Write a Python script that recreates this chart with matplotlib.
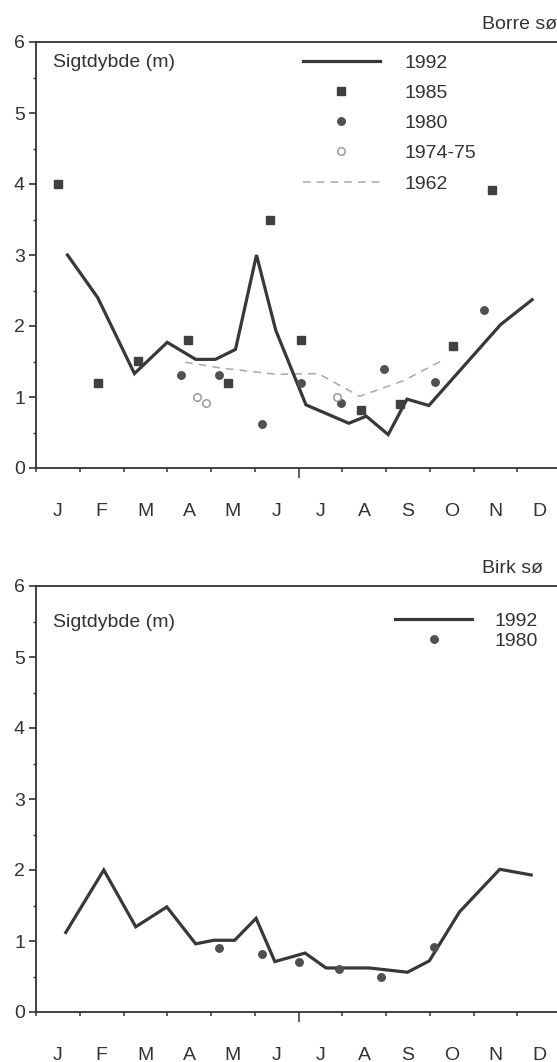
import matplotlib
matplotlib.use("Agg")
import matplotlib.pyplot as plt
from matplotlib.lines import Line2D
from matplotlib.ticker import FixedLocator, MultipleLocator

plt.rcParams["font.family"] = ["Liberation Sans", "DejaVu Sans"]
plt.rcParams["font.size"] = 14

INK = "#333333"

months = ["J", "F", "M", "A", "M", "J", "J", "A", "S", "O", "N", "D"]

# Borre sø, time in months from 1 January
borre_1992_x = [0.72, 1.41, 2.25, 3.0, 3.65, 4.1, 4.56, 5.04, 5.48, 6.17, 7.15,
                7.55, 8.05, 8.48, 8.98, 10.62, 11.34]
borre_1992_y = [3.0, 2.4, 1.33, 1.77, 1.53, 1.53, 1.67, 3.0, 1.94, 0.89, 0.63,
                0.73, 0.47, 0.97, 0.88, 2.02, 2.37]
borre_1985_x = [0.51, 1.41, 2.32, 3.47, 4.39, 5.35, 6.06, 7.42, 8.33, 9.52, 10.43]
borre_1985_y = [4.0, 1.2, 1.51, 1.8, 1.2, 3.5, 1.8, 0.82, 0.9, 1.72, 3.91]
borre_1980_x = [3.31, 4.18, 5.17, 6.05, 6.96, 7.95, 9.12, 10.23]
borre_1980_y = [1.31, 1.31, 0.62, 1.2, 0.91, 1.4, 1.21, 2.22]
borre_1974_x = [3.68, 3.89, 6.89]
borre_1974_y = [1.0, 0.91, 1.0]
borre_1962_x = [3.41, 4.2, 5.5, 6.45, 7.4, 8.4, 9.3]
borre_1962_y = [1.49, 1.41, 1.32, 1.33, 1.01, 1.23, 1.52]

# Birk sø
birk_1992_x = [0.68, 1.55, 2.28, 2.99, 3.65, 4.06, 4.54, 5.03, 5.46, 6.15, 6.63,
               7.62, 8.49, 8.99, 9.68, 10.6, 11.32]
birk_1992_y = [1.12, 2.0, 1.2, 1.48, 0.96, 1.01, 1.01, 1.32, 0.71, 0.83, 0.62,
               0.62, 0.56, 0.72, 1.41, 2.01, 1.93]
birk_1980_x = [4.18, 5.17, 6.02, 6.93, 7.89, 9.09]
birk_1980_y = [0.9, 0.81, 0.7, 0.61, 0.5, 0.91]

line_kw = dict(color="#383838", lw=2.3, solid_joinstyle="miter")
square_kw = dict(ls="none", marker="s", ms=6, color="#404040")
dot_kw = dict(ls="none", marker="o", ms=5.4, color="#505050")
ring_kw = dict(ls="none", marker="o", ms=5.4, mfc="white", mec="#9a9a9a", mew=1.1)
dash_kw = dict(color="#a8a8a8", lw=1.1, dashes=(5, 4))


def style_axes(ax, title, label_y):
    ax.set_xlim(0, 12)
    ax.set_ylim(0, 6)
    ax.spines["right"].set_visible(False)
    for side in ["left", "bottom", "top"]:
        ax.spines[side].set_color(INK)
        ax.spines[side].set_linewidth(1.3)

    ax.yaxis.set_major_locator(MultipleLocator(1))
    ax.yaxis.set_minor_locator(MultipleLocator(0.5))
    ax.tick_params(axis="y", which="major", length=5, width=1.2, color=INK,
                   labelcolor=INK, labelsize=14, pad=3)
    ax.tick_params(axis="y", which="minor", length=2.5, width=1.0, color=INK)

    # month boundaries as ticks, month names centred between them
    ax.xaxis.set_major_locator(FixedLocator(range(0, 12)))
    ax.xaxis.set_major_formatter(plt.NullFormatter())
    ax.set_xticks([m + 0.5 for m in range(12)], months, minor=True)
    ax.tick_params(axis="x", which="major", length=3, width=1.1, color=INK)
    ax.tick_params(axis="x", which="minor", length=0, pad=25,
                   labelcolor=INK, labelsize=14)
    # mid-year tick drawn longer
    ax.get_xticklines()[12].set_markersize(7)

    ax.text(0.38, label_y, "Sigtdybde (m)", va="center", ha="left",
            color=INK, fontsize=14)
    ax.text(10.2, 6.12, title, va="bottom", ha="left", color=INK,
            fontsize=14, clip_on=False)


fig = plt.figure(figsize=(5.57, 10.62), dpi=100)
ax1 = fig.add_axes([36 / 557, 594 / 1062, 525 / 557, 426 / 1062])
ax2 = fig.add_axes([36 / 557, 50 / 1062, 525 / 557, 426 / 1062])

# Borre sø
ax1.plot(borre_1962_x, borre_1962_y, **dash_kw)
ax1.plot(borre_1992_x, borre_1992_y, **line_kw)
ax1.plot(borre_1985_x, borre_1985_y, **square_kw)
ax1.plot(borre_1980_x, borre_1980_y, **dot_kw)
ax1.plot(borre_1974_x, borre_1974_y, **ring_kw)
style_axes(ax1, "Borre sø", 5.71)

handles1 = [Line2D([], [], **line_kw), Line2D([], [], **square_kw),
            Line2D([], [], **dot_kw), Line2D([], [], **ring_kw),
            Line2D([], [], **dash_kw)]
ax1.legend(handles1, ["1992", "1985", "1980", "1974-75", "1962"],
           loc="upper left", bbox_to_anchor=(0.508, 0.972), frameon=False,
           borderpad=0, borderaxespad=0, handlelength=3.96,
           handletextpad=1.3, labelspacing=0.65, fontsize=14,
           labelcolor=INK)

# Birk sø
ax2.plot(birk_1992_x, birk_1992_y, **line_kw)
ax2.plot(birk_1980_x, birk_1980_y, **dot_kw)
style_axes(ax2, "Birk sø", 5.49)

handles2 = [Line2D([], [], **line_kw), Line2D([], [], **dot_kw)]
ax2.legend(handles2, ["1992", "1980"],
           loc="upper left", bbox_to_anchor=(0.684, 0.938), frameon=False,
           borderpad=0, borderaxespad=0, handlelength=3.96,
           handletextpad=1.17, labelspacing=0.1, fontsize=14,
           labelcolor=INK)

fig.savefig("out.png", dpi=100)
plt.close(fig)
